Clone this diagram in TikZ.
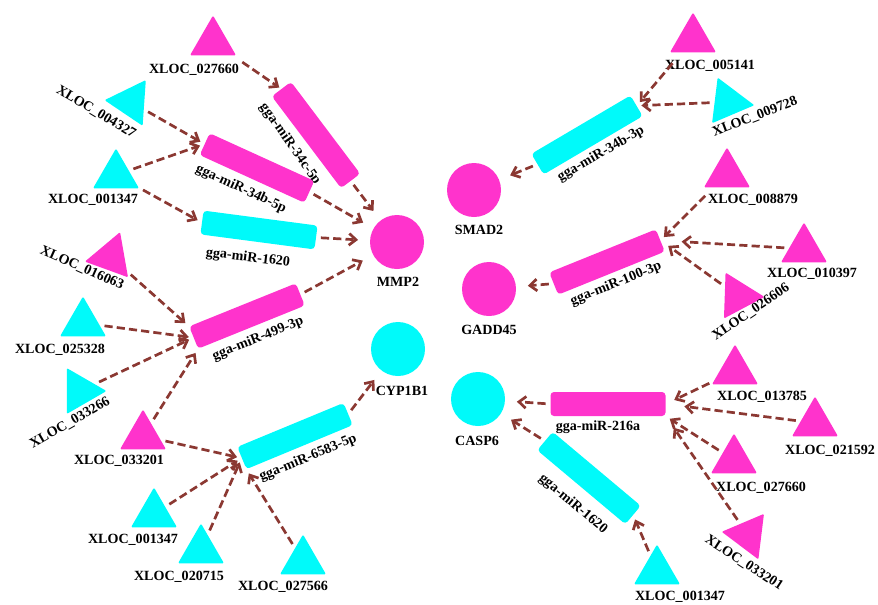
\documentclass[tikz,border=0pt]{standalone}
\usepackage{fontspec}
\setmainfont{Liberation Serif}
\usetikzlibrary{shapes,arrows.meta}
\definecolor{mirpink}{RGB}{255,51,204}
\definecolor{mircyan}{RGB}{0,250,250}
\definecolor{linkred}{RGB}{139,56,50}

\begin{document}
\begin{tikzpicture}[x=0.03cm, y=-0.03cm]
    \tikzstyle{lnc} = [regular polygon, regular polygon sides=3, minimum size=1.59cm, inner sep=0pt, rounded corners=1pt]
    \tikzstyle{mirna} = [rectangle, rounded corners=3pt, minimum width=3.45cm, minimum height=0.72cm, inner sep=0pt]
    \tikzstyle{gene} = [circle, minimum size=1.62cm, inner sep=0pt]
    \tikzstyle{lbl} = [font=\fontsize{12}{14}\selectfont\bfseries, inner sep=0pt]
    \tikzstyle{regulates} = [->, >={Straight Barb[length=6pt,width=10pt]}, line width=2.3pt, dash pattern=on 7pt off 3.5pt, draw=linkred, shorten <=4pt, shorten >=4pt]
    \useasboundingbox (0,0) rectangle (878,604);
    \node[lnc, fill=mirpink] (x027660a) at (213,42) {};
    \node[lbl] (l027660a) at (194,70) {XLOC\_027660};
    \node[lnc, fill=mircyan, rotate=86] (x004327) at (131,102) {};
    \node[lbl, rotate=-31] (l004327) at (96,112) {XLOC\_004327};
    \node[lnc, fill=mircyan] (x001347a) at (116,175) {};
    \node[lbl] (l001347a) at (93,200) {XLOC\_001347};
    \node[lnc, fill=mirpink, rotate=-20] (x016063) at (111,257) {};
    \node[lbl, rotate=-24] (l016063) at (82,268) {XLOC\_016063};
    \node[lnc, fill=mircyan] (x025328) at (83,323) {};
    \node[lbl] (l025328) at (60,350) {XLOC\_025328};
    \node[lnc, fill=mircyan, rotate=-90] (x033266) at (80,391) {};
    \node[lbl, rotate=30] (l033266) at (70,423) {XLOC\_033266};
    \node[lnc, fill=mirpink] (x033201a) at (143,436) {};
    \node[lbl] (l033201a) at (119,461) {XLOC\_033201};
    \node[lnc, fill=mircyan] (x001347b) at (154,514) {};
    \node[lbl] (l001347b) at (133,540) {XLOC\_001347};
    \node[lnc, fill=mircyan] (x020715) at (201,550) {};
    \node[lbl] (l020715) at (179,577) {XLOC\_020715};
    \node[lnc, fill=mircyan] (x027566) at (303,561) {};
    \node[lbl] (l027566) at (283,587) {XLOC\_027566};
    \node[mirna, fill=mirpink, rotate=-53] (m34c) at (316,135) {};
    \node[lbl, rotate=-55] (n34c) at (290,144) {gga-miR-34c-5p};
    \node[mirna, fill=mirpink, rotate=-24.5] (m34b5) at (257,168) {};
    \node[lbl, rotate=-24.5] (n34b5) at (241,189) {gga-miR-34b-5p};
    \node[mirna, fill=mircyan, rotate=-7.5] (m1620a) at (259,230) {};
    \node[lbl, rotate=-7] (n1620a) at (248,258) {gga-miR-1620};
    \node[mirna, fill=mirpink, rotate=22] (m499) at (247,316) {};
    \node[lbl, rotate=22] (n499) at (258,339) {gga-miR-499-3p};
    \node[mirna, fill=mircyan, rotate=22.5] (m6583) at (295,436) {};
    \node[lbl, rotate=22.5] (n6583) at (308,458) {gga-miR-6583-5p};
    \node[gene, fill=mirpink] (mmp2) at (397,242) {};
    \node[lbl] (nmmp2) at (398,282) {MMP2};
    \node[gene, fill=mircyan] (cyp1b1) at (398,349) {};
    \node[lbl] (ncyp1b1) at (402,391) {CYP1B1};
    \node[gene, fill=mirpink] (smad2) at (474,190) {};
    \node[lbl] (nsmad2) at (479,230) {SMAD2};
    \node[gene, fill=mirpink] (gadd45) at (489,289) {};
    \node[lbl] (ngadd45) at (489,330) {GADD45};
    \node[gene, fill=mircyan] (casp6) at (478,399) {};
    \node[lbl] (ncasp6) at (477,441) {CASP6};
    \node[mirna, fill=mircyan, rotate=30.5] (m34b3) at (587,135) {};
    \node[lbl, rotate=30] (n34b3) at (601,154) {gga-miR-34b-3p};
    \node[mirna, fill=mirpink, rotate=22] (m100) at (607,262) {};
    \node[lbl, rotate=22] (n100) at (616,284) {gga-miR-100-3p};
    \node[mirna, fill=mirpink] (m216) at (608,404) {};
    \node[lbl] (n216) at (598,427) {gga-miR-216a};
    \node[mirna, fill=mircyan, rotate=-40] (m1620b) at (589,478) {};
    \node[lbl, rotate=-40] (n1620b) at (573,504) {gga-miR-1620};
    \node[lnc, fill=mirpink] (x005141) at (693,39) {};
    \node[lbl] (l005141) at (710,66) {XLOC\_005141};
    \node[lnc, fill=mircyan, rotate=23] (x009728) at (728,102) {};
    \node[lbl, rotate=21] (l009728) at (755,117) {XLOC\_009728};
    \node[lnc, fill=mirpink] (x008879) at (727,174) {};
    \node[lbl] (l008879) at (753,200) {XLOC\_008879};
    \node[lnc, fill=mirpink] (x010397) at (804,249) {};
    \node[lbl] (l010397) at (812,274) {XLOC\_010397};
    \node[lnc, fill=mirpink, rotate=28] (x026606) at (738,296) {};
    \node[lbl, rotate=34] (l026606) at (751,312) {XLOC\_026606};
    \node[lnc, fill=mirpink] (x013785) at (735,371) {};
    \node[lbl] (l013785) at (762,397) {XLOC\_013785};
    \node[lnc, fill=mirpink] (x021592) at (815,423) {};
    \node[lbl] (l021592) at (830,451) {XLOC\_021592};
    \node[lnc, fill=mirpink] (x027660b) at (734,460) {};
    \node[lbl] (l027660b) at (761,488) {XLOC\_027660};
    \node[lnc, fill=mirpink, rotate=83] (x033201b) at (748,535) {};
    \node[lbl, rotate=-33] (l033201b) at (744,563) {XLOC\_033201};
    \node[lnc, fill=mircyan] (x001347c) at (657,571) {};
    \node[lbl] (l001347c) at (680,597) {XLOC\_001347};
    \draw[regulates, shorten <=10pt, shorten >=2pt] (x027660a) -- (m34c.west);
    \draw[regulates] (x004327) -- (m34b5.west);
    \draw[regulates] (x001347a) -- (m34b5.west);
    \draw[regulates] (x001347a) -- (m1620a.west);
    \draw[regulates, shorten >=10pt] (m34b5.east) -- (mmp2);
    \draw[regulates, shorten >=10pt] (m34c.east) -- (mmp2);
    \draw[regulates, shorten >=10pt] (m1620a.east) -- (mmp2);
    \draw[regulates, shorten >=10pt] (m499.east) -- (mmp2);
    \draw[regulates] (x016063) -- (m499.north west);
    \draw[regulates] (x025328) -- (m499.west);
    \draw[regulates] (x033266) -- (m499.west);
    \draw[regulates] (x033201a) -- (m499.south west);
    \draw[regulates] (x033201a) -- (m6583.west);
    \draw[regulates] (x001347b) -- (m6583.west);
    \draw[regulates] (x020715) -- (m6583.west);
    \draw[regulates] (x027566) -- (m6583.south west);
    \draw[regulates, shorten >=10pt] (m6583.east) -- (cyp1b1);
    \draw[regulates, shorten <=12pt] (x005141) -- (m34b3.east);
    \draw[regulates] (x009728) -- (m34b3.east);
    \draw[regulates, shorten >=10pt] (m34b3.west) -- (smad2);
    \draw[regulates, shorten <=10pt] (x008879) -- (m100.east);
    \draw[regulates, shorten >=18pt] (x010397) -- (m100.east);
    \draw[regulates, shorten >=8pt] (x026606) -- (m100.east);
    \draw[regulates, shorten >=10pt] (m100.west) -- (gadd45);
    \draw[regulates, shorten >=10pt] (m216.west) -- (casp6);
    \draw[regulates, shorten >=10pt] (m1620b.west) -- (casp6);
    \draw[regulates, shorten >=8pt] (x013785) -- (m216.east);
    \draw[regulates, shorten >=16pt] (x021592) -- (m216.east);
    \draw[regulates] (x027660b) -- (m216.south east);
    \draw[regulates, shorten >=12pt] (x033201b) -- (m216.south east);
    \draw[regulates] (x001347c) -- (m1620b.east);
\end{tikzpicture}
\end{document}
